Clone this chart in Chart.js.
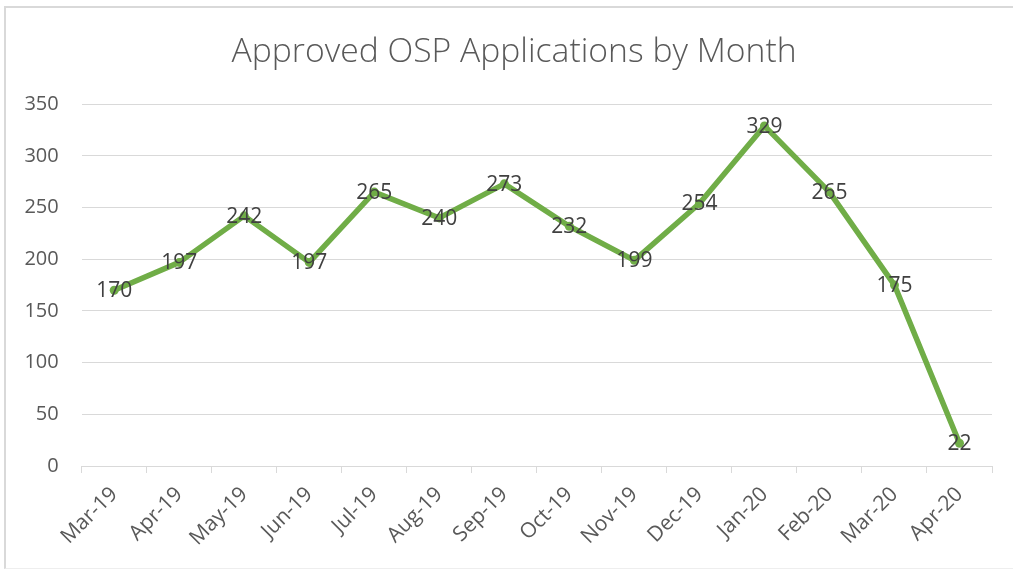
<!DOCTYPE html>
<html>
<head>
<meta charset="utf-8">
<script src="https://cdn.jsdelivr.net/npm/chart.js@4.4.0/dist/chart.umd.min.js"></script>
<style>
  html, body { margin: 0; padding: 0; background: #ffffff; }
  #wrap { position: relative; width: 1013px; height: 571px; overflow: hidden; }
  #frame { position: absolute; left: 4px; top: 6px; width: 1020px; height: 563px;
           border-left: 2px solid #D9D9D9; border-top: 2px solid #D9D9D9; border-bottom: 1px solid #EEEEEE; box-sizing: border-box; }
  canvas { position: absolute; left: 0; top: 0; }
</style>
</head>
<body>
<div id="wrap">
  <div id="frame"></div>
  <canvas id="c" width="1013" height="571"></canvas>
</div>
<script>
const chartTitle = 'Approved OSP Applications by Month';
const categories = ['Mar-19','Apr-19','May-19','Jun-19','Jul-19','Aug-19','Sep-19','Oct-19','Nov-19','Dec-19','Jan-20','Feb-20','Mar-20','Apr-20'];
const approved = [170, 197, 242, 197, 265, 240, 273, 232, 199, 254, 329, 265, 175, 22];
const yTicks = [0, 50, 100, 150, 200, 250, 300, 350];

const FONT = "'Open Sans', 'Liberation Sans', sans-serif";

const dataLabels = {
  id: 'dataLabels',
  afterLayout(chart) {
    // the original chart frame extends past the right edge; centre the title on that frame
    if (chart.titleBlock) { chart.titleBlock.right += 32; }
  },
  afterDatasetsDraw(chart) {
    const ctx = chart.ctx;
    const meta = chart.getDatasetMeta(0);
    ctx.save();
    ctx.font = "21px " + FONT;
    ctx.fillStyle = '#404040';
    ctx.textAlign = 'center';
    ctx.textBaseline = 'middle';
    meta.data.forEach((pt, i) => {
      ctx.fillText(String(chart.data.datasets[0].data[i]), pt.x, pt.y + 1);
    });
    ctx.restore();
  }
};

new Chart(document.getElementById('c'), {
  type: 'line',
  data: {
    labels: categories,
    datasets: [{
      label: 'Approved',
      data: approved,
      borderColor: '#70AD47',
      backgroundColor: '#70AD47',
      borderWidth: 5.5,
      pointRadius: 4.5,
      pointBorderWidth: 0,
      pointBackgroundColor: '#70AD47',
      tension: 0,
      borderJoinStyle: 'round',
      borderCapStyle: 'round'
    }]
  },
  options: {
    responsive: false,
    animation: false,
    devicePixelRatio: 1,
    layout: { padding: { left: 4, right: 21, top: 6, bottom: 0 } },
    plugins: {
      legend: { display: false },
      tooltip: { enabled: false },
      title: {
        display: true,
        text: chartTitle,
        color: '#595959',
        font: { family: FONT, size: 33.7, weight: 300, lineHeight: 1.2 },
        padding: { top: 26, bottom: 31.8 }
      }
    },
    scales: {
      x: {
        offset: true,
        grid: { display: true, offset: true, drawOnChartArea: false, drawTicks: true, tickLength: 7, color: '#D9D9D9', lineWidth: 1 },
        border: { display: true, color: '#D9D9D9', width: 1 },
        ticks: { color: '#595959', font: { family: FONT, size: 21 }, minRotation: 45, maxRotation: 45, padding: 9, autoSkip: false },
        afterFit(scale) { scale.height = 105; }
      },
      y: {
        min: 0, max: 350,
        afterBuildTicks(scale) { scale.ticks = yTicks.map(v => ({ value: v })); },
        grid: { color: '#D9D9D9', lineWidth: 1, drawTicks: false },
        border: { display: false },
        ticks: { color: '#595959', font: { family: FONT, size: 20 }, padding: 23 },
        afterFit(scale) { scale.width = 77.7; }
      }
    }
  },
  plugins: [dataLabels]
});
</script>
</body>
</html>
